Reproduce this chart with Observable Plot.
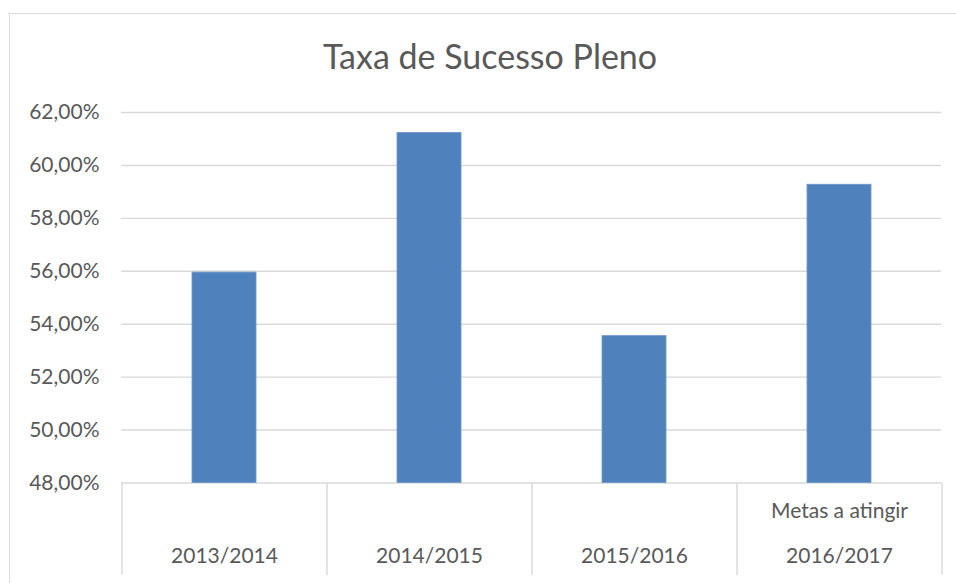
<!DOCTYPE html>
<html>
<head>
<meta charset="utf-8">
<script src="https://cdn.jsdelivr.net/npm/d3@7"></script>
<script src="https://cdn.jsdelivr.net/npm/@observablehq/plot@0.6"></script>
<style>
  body { margin: 0; background: #fff; }
  #wrap { position: relative; width: 956px; height: 583px; overflow: hidden; font-family: Lato, "Open Sans", sans-serif; background: #fff; }
  #chart { position: absolute; left: 0; top: 0; }
  #frame { position: absolute; left: 9px; top: 13px; width: 1200px; height: 1200px; border-left: 1px solid #d9d9d9; border-top: 1px solid #d9d9d9; pointer-events: none; }
  #title { position: absolute; left: 490px; top: 35.7px; transform: translateX(-50%); font-size: 34px; line-height: 1.2; color: #595959; white-space: nowrap; }
</style>
</head>
<body>
<div id="wrap">
  <div id="chart"></div>
  <div id="frame"></div>
  <div id="title">Taxa de Sucesso Pleno</div>
</div>
<script>
// ---- data ----
const years = ["2013/2014", "2014/2015", "2015/2016", "2016/2017"];
const values = [0.5595, 0.6123, 0.5355, 0.5927];
const groupLabels = ["", "", "", "Metas a atingir"];
const yTicks = [0.48, 0.50, 0.52, 0.54, 0.56, 0.58, 0.60, 0.62];
const yMin = 0.48, yMax = 0.62;

const data = years.map((year, i) => ({year, value: values[i], group: groupLabels[i]}));

// ---- layout ----
const W = 956, H = 583;
const mL = 121, mR = 15, mT = 112, mB = 100.5;
const plotW = W - mL - mR, plotH = H - mT - mB;
const step = plotW / years.length;
const tableDepth = 92.5;
const textColor = "#595959", gridColor = "#d9d9d9";
const fmt = d => (d * 100).toFixed(2).replace(".", ",") + "%";

const chart = Plot.plot({
  width: W,
  height: H,
  marginLeft: mL,
  marginRight: mR,
  marginTop: mT,
  marginBottom: mB,
  style: {color: textColor, fontFamily: "Lato, 'Open Sans', sans-serif", background: "transparent", overflow: "visible"},
  x: {domain: years, paddingInner: 0.69, paddingOuter: 0.345, axis: null},
  y: {domain: [yMin, yMax], axis: null},
  marks: [
    Plot.ruleY(yTicks, {stroke: gridColor, strokeWidth: 1.4}),
    Plot.barY(data, {x: "year", y1: yMin, y2: "value", fill: "#4f81bd", stroke: "#6e96c9", strokeWidth: 0.8}),
    Plot.axisY({ticks: yTicks, tickSize: 0, tickPadding: 22, tickFormat: fmt, fontSize: 21, label: null, fill: textColor}),
    // category table separators
    Plot.ruleX(years, {x: d => d, dx: -step / 2, insetTop: plotH, insetBottom: -tableDepth, stroke: gridColor, strokeWidth: 1.4}),
    Plot.ruleX(years.slice(-1), {x: d => d, dx: step / 2, insetTop: plotH, insetBottom: -tableDepth, stroke: gridColor, strokeWidth: 1.4}),
    // category labels
    Plot.text(data, {x: "year", text: "year", frameAnchor: "bottom", dy: 80, fontSize: 21, fill: textColor}),
    Plot.text(data, {x: "year", text: "group", frameAnchor: "bottom", dy: 35, fontSize: 21, fill: textColor})
  ]
});
document.getElementById("chart").appendChild(chart);
</script>
</body>
</html>
